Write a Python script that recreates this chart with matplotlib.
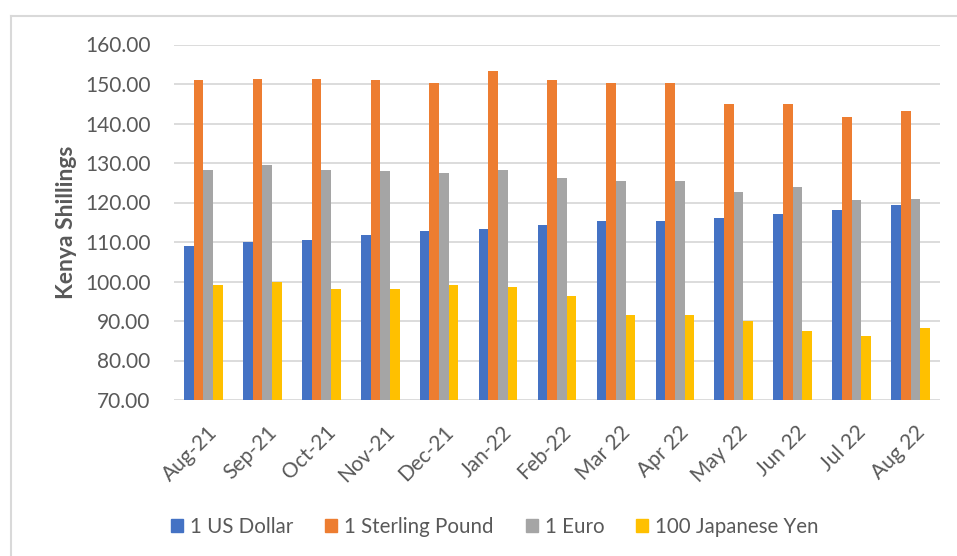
import numpy as np
import matplotlib
matplotlib.use('Agg')
from matplotlib import pyplot as plt
from matplotlib.lines import Line2D
from matplotlib.transforms import ScaledTranslation

months = ['Aug-21', 'Sep-21', 'Oct-21', 'Nov-21', 'Dec-21', 'Jan-22', 'Feb-22',
          'Mar 22', 'Apr 22', 'May 22', 'Jun 22', 'Jul 22', 'Aug 22']
usd = [109.0, 110.1, 110.5, 111.7, 112.9, 113.3, 114.2, 115.4, 115.4, 116.2, 117.0, 118.1, 119.4]
gbp = [150.9, 151.3, 151.3, 150.9, 150.2, 153.4, 151.0, 150.2, 150.2, 144.9, 144.9, 141.6, 143.2]
eur = [128.3, 129.5, 128.3, 127.9, 127.4, 128.3, 126.3, 125.5, 125.5, 122.7, 123.9, 120.7, 121.0]
jpy = [99.1, 100.0, 98.0, 98.0, 99.1, 98.5, 96.4, 91.5, 91.5, 89.9, 87.5, 86.2, 88.2]

series = [usd, gbp, eur, jpy]
names = ['1 US Dollar', '1 Sterling Pound', '1 Euro', '100 Japanese Yen']
colors = ['#4472C4', '#ED7D31', '#A5A5A5', '#FFC000']

plt.rcParams['font.family'] = ['Lato', 'DejaVu Sans']
txt = '#595959'

fig = plt.figure(figsize=(9.57, 5.56), dpi=100)
W, H = 957, 556
ax = fig.add_axes([174 / W, 1 - 400 / H, (940 - 174) / W, (400 - 44.5) / H])

x = np.arange(len(months))
bw = 0.164
for i, (vals, name, c) in enumerate(zip(series, names, colors)):
    ax.bar(x + (i - 1.5) * bw, np.array(vals) - 70, bw, bottom=70, color=c,
           label=name, zorder=3)

ax.set_xlim(-0.5, len(months) - 0.5)
ax.set_ylim(70, 160)
ax.set_yticks(np.arange(70, 161, 10))
ax.set_yticklabels(['%.2f' % v for v in np.arange(70, 161, 10)], fontsize=15, color=txt)
ax.set_xticks(x)
ax.set_xticklabels(months, rotation=45, ha='right', rotation_mode='anchor',
                   fontsize=15, color=txt)
ax.tick_params(axis='y', length=0, pad=17)
ax.tick_params(axis='x', length=0, pad=16)
shift = ScaledTranslation(4 / 100, 0, fig.dpi_scale_trans)
for lab in ax.get_xticklabels():
    lab.set_transform(lab.get_transform() + shift)
ax.grid(axis='y', color='#D9D9D9', linewidth=1.3, zorder=0)
for s in ax.spines.values():
    s.set_visible(False)
ax.set_ylabel('Kenya Shillings', fontsize=16.5, fontweight='bold', color=txt, labelpad=6)

handles = [plt.Rectangle((0, 0), 1, 1, color=c) for c in colors]
fig.legend(handles, names, loc='center', bbox_to_anchor=(495 / W, 1 - 527 / H),
           ncol=4, frameon=False, fontsize=14.8, labelcolor=txt,
           handlelength=0.58, handleheight=0.58, handletextpad=0.34, columnspacing=1.56)

# outer chart frame (cropped on the right and bottom)
fig.add_artist(Line2D([11 / W, 11 / W], [0, 1 - 16 / H], transform=fig.transFigure,
                      color='#D9D9D9', linewidth=1.5))
fig.add_artist(Line2D([11 / W, 1], [1 - 16 / H, 1 - 16 / H], transform=fig.transFigure,
                      color='#D9D9D9', linewidth=1.5))

fig.savefig('out.png', dpi=100)
